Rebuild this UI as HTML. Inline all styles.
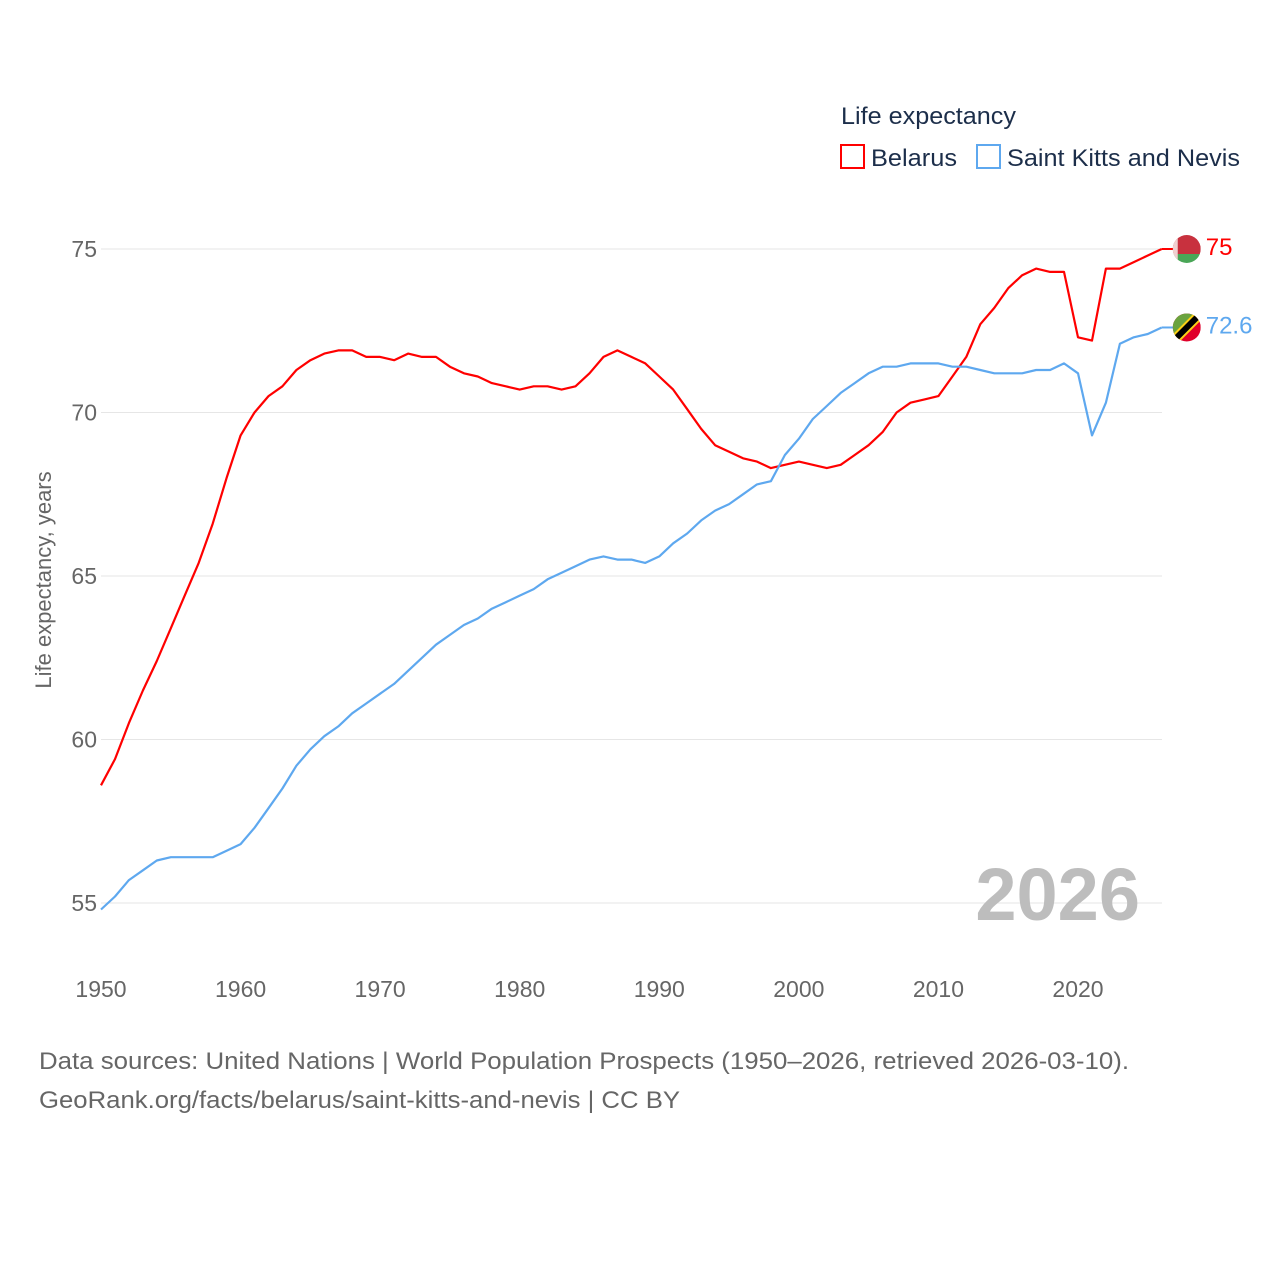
<!DOCTYPE html>
<html><head><meta charset="utf-8">
<style>
body{margin:0;background:#fff;width:1280px;height:1280px;overflow:hidden;font-family:"Liberation Sans",sans-serif;}
svg text{font-family:"Liberation Sans",sans-serif;}
</style></head>
<body>
<svg id="chart" width="1280" height="1280" xmlns="http://www.w3.org/2000/svg">
<text x="841" y="124" font-size="24" fill="#1c2e4a" textLength="175" lengthAdjust="spacingAndGlyphs">Life expectancy</text>
<g>
<rect x="841" y="145" width="23" height="23" fill="none" stroke="#ff0000" stroke-width="2"/>
<text x="871" y="166" font-size="24" fill="#1c2e4a" textLength="86" lengthAdjust="spacingAndGlyphs">Belarus</text>
</g>
<g>
<rect x="977" y="145" width="23" height="23" fill="none" stroke="#5ea8ef" stroke-width="2"/>
<text x="1007" y="166" font-size="24" fill="#1c2e4a" textLength="233" lengthAdjust="spacingAndGlyphs">Saint Kitts and Nevis</text>
</g>
<g id="grid"></g>
<g id="series"></g>
<text x="1140" y="920" font-size="74" font-weight="bold" fill="#bdbdbd" text-anchor="end">2026</text>
<text transform="translate(51,580) rotate(-90)" font-size="22" fill="#666" text-anchor="middle">Life expectancy, years</text>
<text x="39" y="1069" font-size="24" fill="#666" textLength="1090" lengthAdjust="spacingAndGlyphs">Data sources: United Nations | World Population Prospects (1950–2026, retrieved 2026-03-10).</text>
<text x="39" y="1108" font-size="24" fill="#666" textLength="641" lengthAdjust="spacingAndGlyphs">GeoRank.org/facts/belarus/saint-kitts-and-nevis | CC BY</text>
</svg>
<script>
const years = [];
for (let y = 1950; y <= 2026; y++) years.push(y);
const belarus = [58.6,59.4,60.5,61.5,62.4,63.4,64.4,65.4,66.6,68.0,69.3,70.0,70.5,70.8,71.3,71.6,71.8,71.9,71.9,71.7,71.7,71.6,71.8,71.7,71.7,71.4,71.2,71.1,70.9,70.8,70.7,70.8,70.8,70.7,70.8,71.2,71.7,71.9,71.7,71.5,71.1,70.7,70.1,69.5,69.0,68.8,68.6,68.5,68.3,68.4,68.5,68.4,68.3,68.4,68.7,69.0,69.4,70.0,70.3,70.4,70.5,71.1,71.7,72.7,73.2,73.8,74.2,74.4,74.3,74.3,72.3,72.2,74.4,74.4,74.6,74.8,75.0];
const skn = [54.8,55.2,55.7,56.0,56.3,56.4,56.4,56.4,56.4,56.6,56.8,57.3,57.9,58.5,59.2,59.7,60.1,60.4,60.8,61.1,61.4,61.7,62.1,62.5,62.9,63.2,63.5,63.7,64.0,64.2,64.4,64.6,64.9,65.1,65.3,65.5,65.6,65.5,65.5,65.4,65.6,66.0,66.3,66.7,67.0,67.2,67.5,67.8,67.9,68.7,69.2,69.8,70.2,70.6,70.9,71.2,71.4,71.4,71.5,71.5,71.5,71.4,71.4,71.3,71.2,71.2,71.2,71.3,71.3,71.5,71.2,69.3,70.3,72.1,72.3,72.4,72.6];
const yTicks = [55,60,65,70,75];
const xTicks = [1950,1960,1970,1980,1990,2000,2010,2020];
const NS = "http://www.w3.org/2000/svg";
const xS = y => 101 + (y - 1950) * (1078 - 101) / 70;
const yS = v => 249 + (75 - v) * (903 - 249) / 20;
const grid = document.getElementById('grid');
function mk(tag, attrs, parent){const e=document.createElementNS(NS,tag);for(const k in attrs)e.setAttribute(k,attrs[k]);parent.appendChild(e);return e;}
yTicks.forEach(t=>{
  const l=mk('line',{x1:101,x2:1162,y1:yS(t),y2:yS(t),stroke:'#e6e6e6','stroke-width':1},grid);
  
  
  const tx=mk('text',{x:97,y:yS(t)+8,'font-size':23,fill:'#666','text-anchor':'end'},grid);
  tx.textContent=t;
  
  
});
xTicks.forEach(t=>{
  const tx=mk('text',{x:xS(t),y:997,'font-size':23,fill:'#666','text-anchor':'middle'},grid);
  tx.textContent=t;
  
  
});
const sg=document.getElementById('series');
function line(vals,color,name){
  const d=vals.map((v,i)=>(i?'L':'M')+xS(years[i]).toFixed(1)+','+yS(v).toFixed(1)).join('');
  const p=mk('path',{d:d,fill:'none',stroke:color,'stroke-width':2.2,'stroke-linejoin':'round'},sg);
  
  
  const last=vals[vals.length-1], lx=xS(years[years.length-1]), ly=yS(last);
  const ext=mk('line',{x1:lx,x2:lx+14,y1:ly,y2:ly,stroke:color,'stroke-width':2},sg);
  
  
  const lab=mk('text',{x:lx+44,y:ly+6,'font-size':24,fill:color},sg);
  lab.textContent=String(last).replace(/\.0$/,'');
  
  
  return [lx+25,ly];
}
const [bx,by]=line(belarus,'#ff0000','belarus');
const [sx,sy]=line(skn,'#5ea8ef','saint-kitts');
const defs=mk('defs',{},sg);
const c1=mk('clipPath',{id:'cb'},defs);mk('circle',{cx:bx,cy:by,r:14},c1);
const c2=mk('clipPath',{id:'cs'},defs);mk('circle',{cx:sx,cy:sy,r:14},c2);
const fb=mk('g',{'clip-path':'url(#cb)'},sg);


mk('rect',{x:bx-14,y:by-14,width:28,height:19,fill:'#c8313e'},fb);
mk('rect',{x:bx-14,y:by+5,width:28,height:9,fill:'#4aa657'},fb);
mk('rect',{x:bx-14,y:by-14,width:5,height:28,fill:'#f0d0d0'},fb);
const fs=mk('g',{'clip-path':'url(#cs)'},sg);


mk('rect',{x:sx-14,y:sy-14,width:28,height:28,fill:'#e0002a'},fs);
mk('polygon',{points:`${sx-14},${sy-14} ${sx+14},${sy-14} ${sx-14},${sy+14}`,fill:'#6aa33e'},fs);
mk('line',{x1:sx-16,y1:sy+16,x2:sx+16,y2:sy-16,stroke:'#fcd116','stroke-width':10},fs);
mk('line',{x1:sx-16,y1:sy+16,x2:sx+16,y2:sy-16,stroke:'#000','stroke-width':6},fs);
</script>
</body></html>
